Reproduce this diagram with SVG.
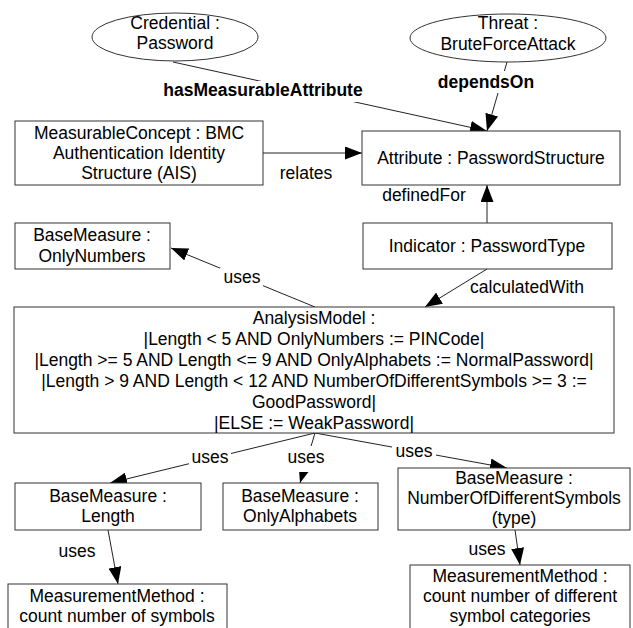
<svg xmlns="http://www.w3.org/2000/svg" width="633" height="628" viewBox="0 0 633 628">
<style>
  text { font-family: "Liberation Sans", Arial, sans-serif; font-size: 17.5px; fill: #000; text-anchor: middle; }
  .b { font-weight: bold; }
  .box { fill: #fff; stroke: #333; stroke-width: 1; }
  .ln { fill: none; stroke: #222; stroke-width: 1; marker-end: url(#ah); }
  .mask { fill: #fff; stroke: none; }
</style>
<defs>
  <marker id="ah" markerUnits="userSpaceOnUse" markerWidth="18" markerHeight="13" refX="17" refY="6.5" orient="auto">
    <path d="M0,0 L17,6.5 L0,13 z" fill="#000"/>
  </marker>
</defs>
<rect width="633" height="628" fill="#fff"/>
<g id="connectors">
  <line class="ln" x1="173" y1="62" x2="487" y2="131"/>
  <line class="ln" x1="507" y1="62" x2="487" y2="131"/>
  <line class="ln" x1="263" y1="153" x2="362" y2="153"/>
  <line class="ln" x1="487" y1="223" x2="487" y2="185"/>
  <line class="ln" x1="487" y1="269" x2="425" y2="307"/>
  <line class="ln" x1="315" y1="307" x2="171" y2="248"/>
  <line class="ln" x1="315" y1="433" x2="110" y2="483"/>
  <line class="ln" x1="315" y1="433" x2="300" y2="483"/>
  <line class="ln" x1="315" y1="433" x2="507" y2="468"/>
  <line class="ln" x1="108" y1="530" x2="118" y2="584"/>
  <line class="ln" x1="515" y1="530" x2="520" y2="565"/>
  <rect class="mask" x="162" y="81" width="203" height="21"/>
  <rect class="mask" x="435" y="71" width="101" height="22"/>
  <rect class="mask" x="220" y="268" width="43" height="18"/>
  <rect class="mask" x="189" y="448" width="42" height="19"/>
  <rect class="mask" x="285" y="446" width="43" height="26"/>
  <rect class="mask" x="392" y="443" width="44" height="17"/>
  <text class="b" x="263" y="96">hasMeasurableAttribute</text>
  <text class="b" x="486" y="88">dependsOn</text>
  <text x="306" y="179">relates</text>
  <text x="424" y="201">definedFor</text>
  <text x="527" y="293">calculatedWith</text>
  <text x="242" y="283">uses</text>
  <text x="210" y="463">uses</text>
  <text x="306" y="463">uses</text>
  <text x="414" y="457">uses</text>
  <text x="77" y="557">uses</text>
  <text x="487" y="555">uses</text>
</g>
<g id="credential">
  <ellipse class="box" cx="175" cy="37" rx="83" ry="24"/>
  <text x="175" y="29">Credential :</text>
  <text x="175" y="49">Password</text>
</g>
<g id="threat">
  <ellipse class="box" cx="508" cy="38" rx="98" ry="24"/>
  <text x="508" y="29">Threat :</text>
  <text x="508" y="50">BruteForceAttack</text>
</g>
<g id="measurableConcept">
  <rect class="box" x="15" y="121" width="248" height="64"/>
  <text x="139" y="139">MeasurableConcept : BMC</text>
  <text x="139" y="159">Authentication Identity</text>
  <text x="139" y="179">Structure (AIS)</text>
</g>
<g id="attribute">
  <rect class="box" x="362" y="131" width="258" height="54"/>
  <text x="491" y="164">Attribute : PasswordStructure</text>
</g>
<g id="indicator">
  <rect class="box" x="363" y="223" width="249" height="46"/>
  <text x="487" y="252">Indicator : PasswordType</text>
</g>
<g id="onlyNumbers">
  <rect class="box" x="15" y="223" width="155" height="46"/>
  <text x="92" y="241">BaseMeasure :</text>
  <text x="92" y="262">OnlyNumbers</text>
</g>
<g id="analysisModel">
  <rect class="box" x="14" y="307" width="600" height="126"/>
  <text x="314" y="324">AnalysisModel :</text>
  <text x="314" y="345">|Length &lt; 5 AND OnlyNumbers := PINCode|</text>
  <text x="314" y="366">|Length &gt;= 5 AND Length &lt;= 9 AND OnlyAlphabets := NormalPassword|</text>
  <text x="314" y="387">|Length &gt; 9 AND Length &lt; 12 AND NumberOfDifferentSymbols &gt;= 3 :=</text>
  <text x="314" y="408">GoodPassword|</text>
  <text x="314" y="429">|ELSE := WeakPassword|</text>
</g>
<g id="length">
  <rect class="box" x="15" y="483" width="186" height="47"/>
  <text x="108" y="502">BaseMeasure :</text>
  <text x="108" y="522">Length</text>
</g>
<g id="onlyAlphabets">
  <rect class="box" x="223" y="483" width="155" height="47"/>
  <text x="300" y="502">BaseMeasure :</text>
  <text x="300" y="522">OnlyAlphabets</text>
</g>
<g id="numberOfDifferentSymbols">
  <rect class="box" x="398" y="468" width="232" height="62"/>
  <text x="514" y="484">BaseMeasure :</text>
  <text x="514" y="504">NumberOfDifferentSymbols</text>
  <text x="514" y="524">(type)</text>
</g>
<g id="methodSymbols">
  <rect class="box" x="8" y="584" width="219" height="60"/>
  <text x="117" y="602">MeasurementMethod :</text>
  <text x="117" y="622">count number of symbols</text>
</g>
<g id="methodCategories">
  <rect class="box" x="410" y="565" width="220" height="80"/>
  <text x="520" y="582">MeasurementMethod :</text>
  <text x="520" y="602">count number of different</text>
  <text x="520" y="622">symbol categories</text>
</g>
</svg>
